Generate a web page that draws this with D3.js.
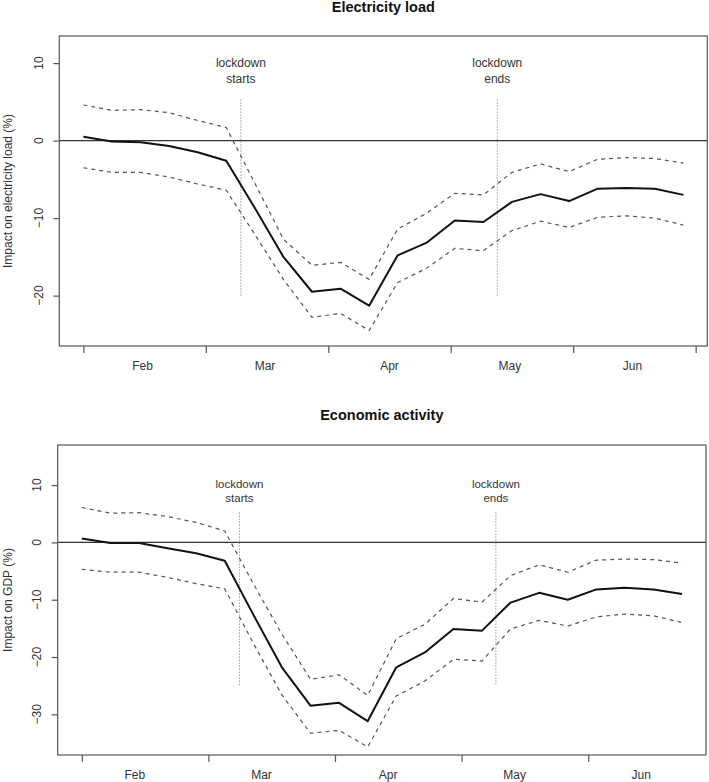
<!DOCTYPE html>
<html>
<head>
<meta charset="utf-8">
<script src="https://cdn.jsdelivr.net/npm/d3@7"></script>
<style>
  html, body { margin: 0; padding: 0; background: #fff; }
  svg { display: block; font-family: "Liberation Sans", Arial, Helvetica, sans-serif; }
</style>
</head>
<body>
<svg id="chart" width="709" height="782"></svg>
<script>
// ---- data (weekly estimates, day offsets from first week) ----
const weekDays = d3.range(22).map(i => i * 7);

const elecFit   = [0.5, -0.1, -0.2, -0.7, -1.5, -2.6, -8.7, -15.0, -19.5, -19.1, -21.3, -14.8, -13.2, -10.3, -10.5, -7.9, -6.9, -7.8, -6.2, -6.1, -6.2, -7.0];
const elecUpper = [4.6, 3.9, 4.0, 3.6, 2.6, 1.7, -5.5, -12.7, -16.1, -15.7, -17.9, -11.4, -9.4, -6.8, -7.0, -4.1, -3.0, -4.0, -2.4, -2.2, -2.3, -2.9];
const elecLower = [-3.5, -4.1, -4.1, -4.7, -5.6, -6.4, -12.1, -17.9, -22.8, -22.3, -24.5, -18.3, -16.5, -13.9, -14.2, -11.6, -10.4, -11.2, -9.9, -9.7, -10.0, -10.9];

const gdpFit   = [0.7, -0.1, -0.1, -1.0, -1.9, -3.2, -12.6, -21.8, -28.5, -28.0, -31.2, -21.8, -19.2, -15.1, -15.4, -10.5, -8.8, -10.0, -8.2, -7.9, -8.2, -9.0];
const gdpUpper = [6.1, 5.1, 5.2, 4.5, 3.5, 2.0, -7.2, -16.0, -23.9, -23.1, -26.7, -16.8, -14.3, -9.8, -10.4, -5.8, -3.9, -5.2, -3.1, -2.9, -3.0, -3.6];
const gdpLower = [-4.7, -5.2, -5.2, -6.1, -7.2, -8.1, -17.6, -26.6, -33.3, -32.8, -35.7, -26.8, -24.2, -20.4, -20.7, -15.1, -13.6, -14.6, -13.0, -12.5, -12.8, -14.0];

const monthLabels   = ["Feb", "Mar", "Apr", "May", "Jun"];
const elecTickDays  = [0, 30, 60, 90, 120, 150];
const elecLabelDays = [14.5, 44.5, 75, 104.5, 134.5];
const gdpTickDays   = [0, 31, 62, 93, 124];
const gdpLabelDays  = [13, 44, 75, 106, 137];
const elecYTicks = [10, 0, -10, -20];
const gdpYTicks  = [10, 0, -10, -20, -30];

const lockdownDays   = [38.6, 101.4];
const lockdownLabels = [["lockdown", "starts"], ["lockdown", "ends"]];

const titles  = ["Electricity load", "Economic activity"];
const yTitles = ["Impact on electricity load (%)", "Impact on GDP (%)"];

// ---- layout ----
const panels = [
  { title: titles[0], yTitle: yTitles[0], fit: elecFit, upper: elecUpper, lower: elecLower,
    ticks: elecTickDays, labels: elecLabelDays, yTicks: elecYTicks,
    yDomain: [-26.5, 13.5], vEnd: -20, vStart: 5.3,
    noteYs: [10, 8], noteFont: 12,
    box: { x0: 59.3, x1: 707.3, y0: 36, y1: 346 }, titleY: 11.5 },
  { title: titles[1], yTitle: yTitles[1], fit: gdpFit, upper: gdpUpper, lower: gdpLower,
    ticks: gdpTickDays, labels: gdpLabelDays, yTicks: gdpYTicks,
    yDomain: [-37.1, 17.0], vEnd: -25, vStart: 5.2,
    noteYs: [10.2, 7.8], noteFont: 11.5,
    box: { x0: 57.7, x1: 706, y0: 445, y1: 755 }, titleY: 420 }
];

const svg = d3.select("#chart");
const textCol = "#333";

panels.forEach(p => {
  const b = p.box;
  const x = d3.scaleLinear().domain([-5.9, 152.85]).range([b.x0, b.x1]);
  const y = d3.scaleLinear().domain(p.yDomain).range([b.y1, b.y0]);
  const g = svg.append("g");

  // title
  g.append("text")
    .attr("x", (b.x0 + b.x1) / 2).attr("y", p.titleY)
    .attr("text-anchor", "middle")
    .style("font-weight", "bold").style("font-size", "14.5px")
    .attr("fill", "#111")
    .text(p.title);

  // zero line
  g.append("line")
    .attr("x1", b.x0).attr("x2", b.x1)
    .attr("y1", y(0)).attr("y2", y(0))
    .attr("stroke", "#333").attr("stroke-width", 1.1);

  // lockdown markers
  lockdownDays.forEach((d, i) => {
    g.append("line")
      .attr("x1", x(d)).attr("x2", x(d))
      .attr("y1", y(p.vStart)).attr("y2", y(p.vEnd))
      .attr("stroke", "#666").attr("stroke-width", 1)
      .attr("stroke-dasharray", "1,2");
    lockdownLabels[i].forEach((s, j) => {
      g.append("text")
        .attr("x", x(d)).attr("y", y(p.noteYs[j]))
        .attr("dy", "0.35em")
        .attr("text-anchor", "middle")
        .style("font-size", p.noteFont + "px")
        .attr("fill", textCol)
        .text(s);
    });
  });

  const line = d3.line().x((d, i) => x(weekDays[i])).y(d => y(d));

  [p.upper, p.lower].forEach(series => {
    g.append("path").datum(series)
      .attr("d", line)
      .attr("fill", "none")
      .attr("stroke", "#555").attr("stroke-width", 1.2)
      .attr("stroke-dasharray", "4,4");
  });
  g.append("path").datum(p.fit)
    .attr("d", line)
    .attr("fill", "none")
    .attr("stroke", "#111").attr("stroke-width", 2)
    .attr("stroke-linejoin", "round");

  // box
  g.append("rect")
    .attr("x", b.x0).attr("y", b.y0)
    .attr("width", b.x1 - b.x0).attr("height", b.y1 - b.y0)
    .attr("fill", "none").attr("stroke", "#555").attr("stroke-width", 1.2);

  // x axis ticks (no labels at ticks)
  const xAxis = d3.axisBottom(x).tickValues(p.ticks).tickSize(7).tickFormat("");
  const xg = g.append("g").attr("transform", `translate(0,${b.y1})`).call(xAxis);
  xg.select(".domain").remove();
  xg.selectAll("line").attr("stroke", "#555").attr("stroke-width", 1.2);

  // month labels between ticks
  p.labels.forEach((d, i) => {
    g.append("text")
      .attr("x", x(d)).attr("y", b.y1 + 24)
      .attr("text-anchor", "middle")
      .style("font-size", "12px")
      .attr("fill", textCol)
      .text(monthLabels[i]);
  });

  // y axis
  const yAxis = d3.axisLeft(y).tickValues(p.yTicks).tickSize(6).tickFormat("");
  const yg = g.append("g").attr("transform", `translate(${b.x0},0)`).call(yAxis);
  yg.select(".domain").remove();
  yg.selectAll("line").attr("stroke", "#555").attr("stroke-width", 1.2);
  p.yTicks.forEach(v => {
    g.append("text")
      .attr("transform", `translate(${b.x0 - 16.8},${y(v)}) rotate(-90)`)
      .attr("text-anchor", "middle")
      .style("font-size", "12px")
      .attr("fill", textCol)
      .text(d3.format("d")(v));
  });

  // y title
  g.append("text")
    .attr("transform", `translate(12,${(b.y0 + b.y1) / 2}) rotate(-90)`)
    .attr("text-anchor", "middle")
    .style("font-size", "12px")
    .attr("fill", textCol)
    .text(p.yTitle);
});
</script>
</body>
</html>
